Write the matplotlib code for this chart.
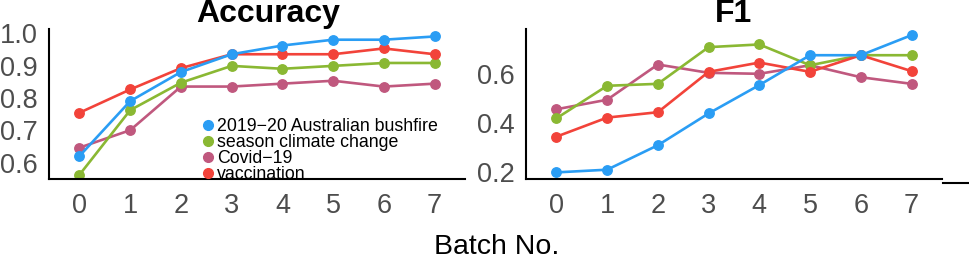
import matplotlib
matplotlib.use('Agg')
import matplotlib.pyplot as plt
from matplotlib.lines import Line2D

plt.rcParams['font.family'] = ['Liberation Sans', 'DejaVu Sans']

batches = [0, 1, 2, 3, 4, 5, 6, 7]
topics = ['2019\u221220 Australian bushfire', 'season climate change',
          'Covid\u221219', 'vaccination']
colors = ['#2A9DF4', '#8AB833', '#C0587E', '#F2433A']

acc_bushfire = [0.62, 0.79, 0.88, 0.935, 0.962, 0.98, 0.98, 0.99]
acc_climate = [0.562, 0.762, 0.847, 0.899, 0.89, 0.899, 0.908, 0.908]
acc_covid = [0.646, 0.70, 0.835, 0.835, 0.844, 0.853, 0.835, 0.844]
acc_vacc = [0.754, 0.826, 0.892, 0.935, 0.935, 0.935, 0.953, 0.935]

f1_bushfire = [0.197, 0.208, 0.308, 0.438, 0.554, 0.676, 0.676, 0.758]
f1_climate = [0.418, 0.551, 0.559, 0.709, 0.72, 0.635, 0.676, 0.676]
f1_covid = [0.455, 0.494, 0.638, 0.604, 0.60, 0.635, 0.586, 0.559]
f1_vacc = [0.343, 0.421, 0.443, 0.608, 0.646, 0.608, 0.676, 0.611]

acc_ticks = [0.6, 0.7, 0.8, 0.9, 1.0]
f1_ticks = [0.2, 0.4, 0.6]

fig = plt.figure(figsize=(9.69, 2.64), dpi=100)
ax1 = fig.add_axes([0.0506, 0.322, 0.4293, 0.568])
ax2 = fig.add_axes([0.5428, 0.322, 0.4293, 0.568])

acc = [acc_bushfire, acc_climate, acc_covid, acc_vacc]
f1 = [f1_bushfire, f1_climate, f1_covid, f1_vacc]

# drawing order: bushfire last on top in accuracy panel
for ax, series in [(ax1, acc), (ax2, f1)]:
    for i in [2, 1, 3, 0]:
        ax.plot(batches, series[i], color=colors[i], lw=1.9, marker='o',
                markersize=6.8, solid_capstyle='round')
    for side in ['top', 'right']:
        ax.spines[side].set_visible(False)
    for side in ['left', 'bottom']:
        ax.spines[side].set_linewidth(1.5)
    ax.set_xlim(-0.6, 7.6)
    ax.set_xticks(batches)
    ax.tick_params(length=0, labelsize=19.5, labelcolor='#4D4D4D', pad=8)
    ax.tick_params(axis='x', pad=10)

ax1.set_ylim(0.549, 1.013)
ax1.set_yticks(acc_ticks)
ax1.set_yticklabels(['%.1f' % v for v in acc_ticks])
ax2.set_ylim(0.17, 0.783)
ax2.set_yticks(f1_ticks)
ax2.set_yticklabels(['%.1f' % v for v in f1_ticks])

ax1.set_title('Accuracy', fontsize=23, fontweight='bold', x=0.526, pad=3)
ax2.set_title('F1', fontsize=23, fontweight='bold', x=0.5, pad=3)

handles = [Line2D([], [], linestyle='none', marker='o', markersize=7,
                  color=c) for c in colors]
leg = ax1.legend(handles, topics, loc='lower left',
                 bbox_to_anchor=(0.37, -0.025), frameon=False, fontsize=12.8,
                 handlelength=0.6, handletextpad=0.2, labelspacing=-0.06,
                 borderpad=0, borderaxespad=0)

fig.text(497 / 969, 0.0644, 'Batch No.', fontsize=20.5, ha='center',
         va='center')
fig.add_artist(Line2D([943 / 969, 1.0], [1 - 183 / 264] * 2,
                      transform=fig.transFigure, color='black', lw=1.5))

fig.savefig('out.png', dpi=100)
